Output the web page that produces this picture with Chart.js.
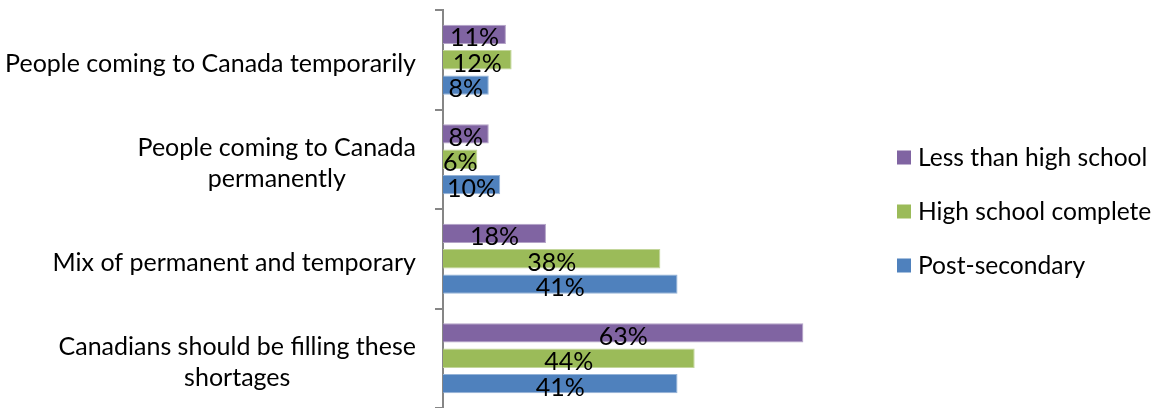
<!DOCTYPE html>
<html>
<head>
<meta charset="utf-8">
<script src="https://cdn.jsdelivr.net/npm/chart.js@4.4.0/dist/chart.umd.min.js"></script>
<style>
  html, body { margin: 0; padding: 0; background: #fff; }
  #wrap { width: 1157px; height: 408px; }
</style>
</head>
<body>
<div id="wrap"><canvas id="myChart" width="1157" height="408"></canvas></div>
<script>
const categories = [
  ["People coming to Canada temporarily"],
  ["People coming to Canada", "permanently"],
  ["Mix of permanent and temporary"],
  ["Canadians should be filling these", "shortages"],
];
const seriesNames = ["Less than high school", "High school complete", "Post-secondary"];
const lessThanHS = [11, 8, 18, 63];
const hsComplete = [12, 6, 38, 44];
const postSecondary = [8, 10, 41, 41];
const colors = ["#8064A2", "#9BBB59", "#4F81BD"];
const edgeColors = ["#B3A2C7", "#C3D69B", "#95B3D7"];

const FONT = "Lato";

// value labels centred in each bar
const barLabels = {
  id: "barLabels",
  afterDatasetsDraw(chart) {
    const ctx = chart.ctx;
    ctx.save();
    ctx.font = "25px " + FONT;
    ctx.fillStyle = "#000";
    ctx.textAlign = "center";
    ctx.textBaseline = "alphabetic";
    chart.data.datasets.forEach((ds, i) => {
      chart.getDatasetMeta(i).data.forEach((bar, j) => {
        ctx.fillText(ds.data[j] + "%", (bar.base + bar.x) / 2, bar.y + 12);
      });
    });
    ctx.restore();
  },
};

// category labels: block right-aligned, lines centred on each other
const catLabels = {
  id: "catLabels",
  afterDraw(chart) {
    const ctx = chart.ctx;
    const y = chart.scales.y;
    const right = 416;
    const lineH = 31;
    ctx.save();
    ctx.font = "25px " + FONT;
    ctx.fillStyle = "#000";
    ctx.textAlign = "center";
    categories.forEach((lines, i) => {
      const w = Math.max(...lines.map((l) => ctx.measureText(l).width));
      const cx = right - w / 2;
      const cy = y.getPixelForValue(i) + 12.5 - ((lines.length - 1) * lineH) / 2;
      lines.forEach((l, k) => ctx.fillText(l, cx, cy + k * lineH));
    });
    ctx.restore();
  },
};

// legend on the right, square swatches
const sideLegend = {
  id: "sideLegend",
  afterDraw(chart) {
    const ctx = chart.ctx;
    ctx.save();
    ctx.font = "24.6px " + FONT;
    ctx.textAlign = "left";
    ctx.textBaseline = "alphabetic";
    seriesNames.forEach((name, i) => {
      const cy = 157.5 + i * 54;
      ctx.fillStyle = colors[i];
      ctx.fillRect(897, cy - 7, 14, 14);
      ctx.fillStyle = "#000";
      ctx.fillText(name, 918, cy + 8.5);
    });
    ctx.restore();
  },
};

new Chart(document.getElementById("myChart"), {
  type: "bar",
  data: {
    labels: categories,
    datasets: [
      { label: seriesNames[0], data: lessThanHS, backgroundColor: colors[0], borderColor: edgeColors[0], borderWidth: 1 },
      { label: seriesNames[1], data: hsComplete, backgroundColor: colors[1], borderColor: edgeColors[1], borderWidth: 1 },
      { label: seriesNames[2], data: postSecondary, backgroundColor: colors[2], borderColor: edgeColors[2], borderWidth: 1 },
    ],
  },
  options: {
    indexAxis: "y",
    responsive: false,
    animation: false,
    categoryPercentage: 0.765,
    barPercentage: 0.76,
    layout: { padding: { left: 435, top: 10, right: 285, bottom: 0 } },
    scales: {
      x: { display: false, min: 0, max: 75 },
      y: {
        ticks: { display: false },
        grid: {
          drawOnChartArea: false,
          tickLength: 8,
          color: "#868686",
          lineWidth: 2,
        },
        border: { color: "#868686", width: 2 },
      },
    },
    plugins: {
      tooltip: { enabled: false },
      legend: { display: false },
    },
  },
  plugins: [barLabels, catLabels, sideLegend],
});
</script>
</body>
</html>
